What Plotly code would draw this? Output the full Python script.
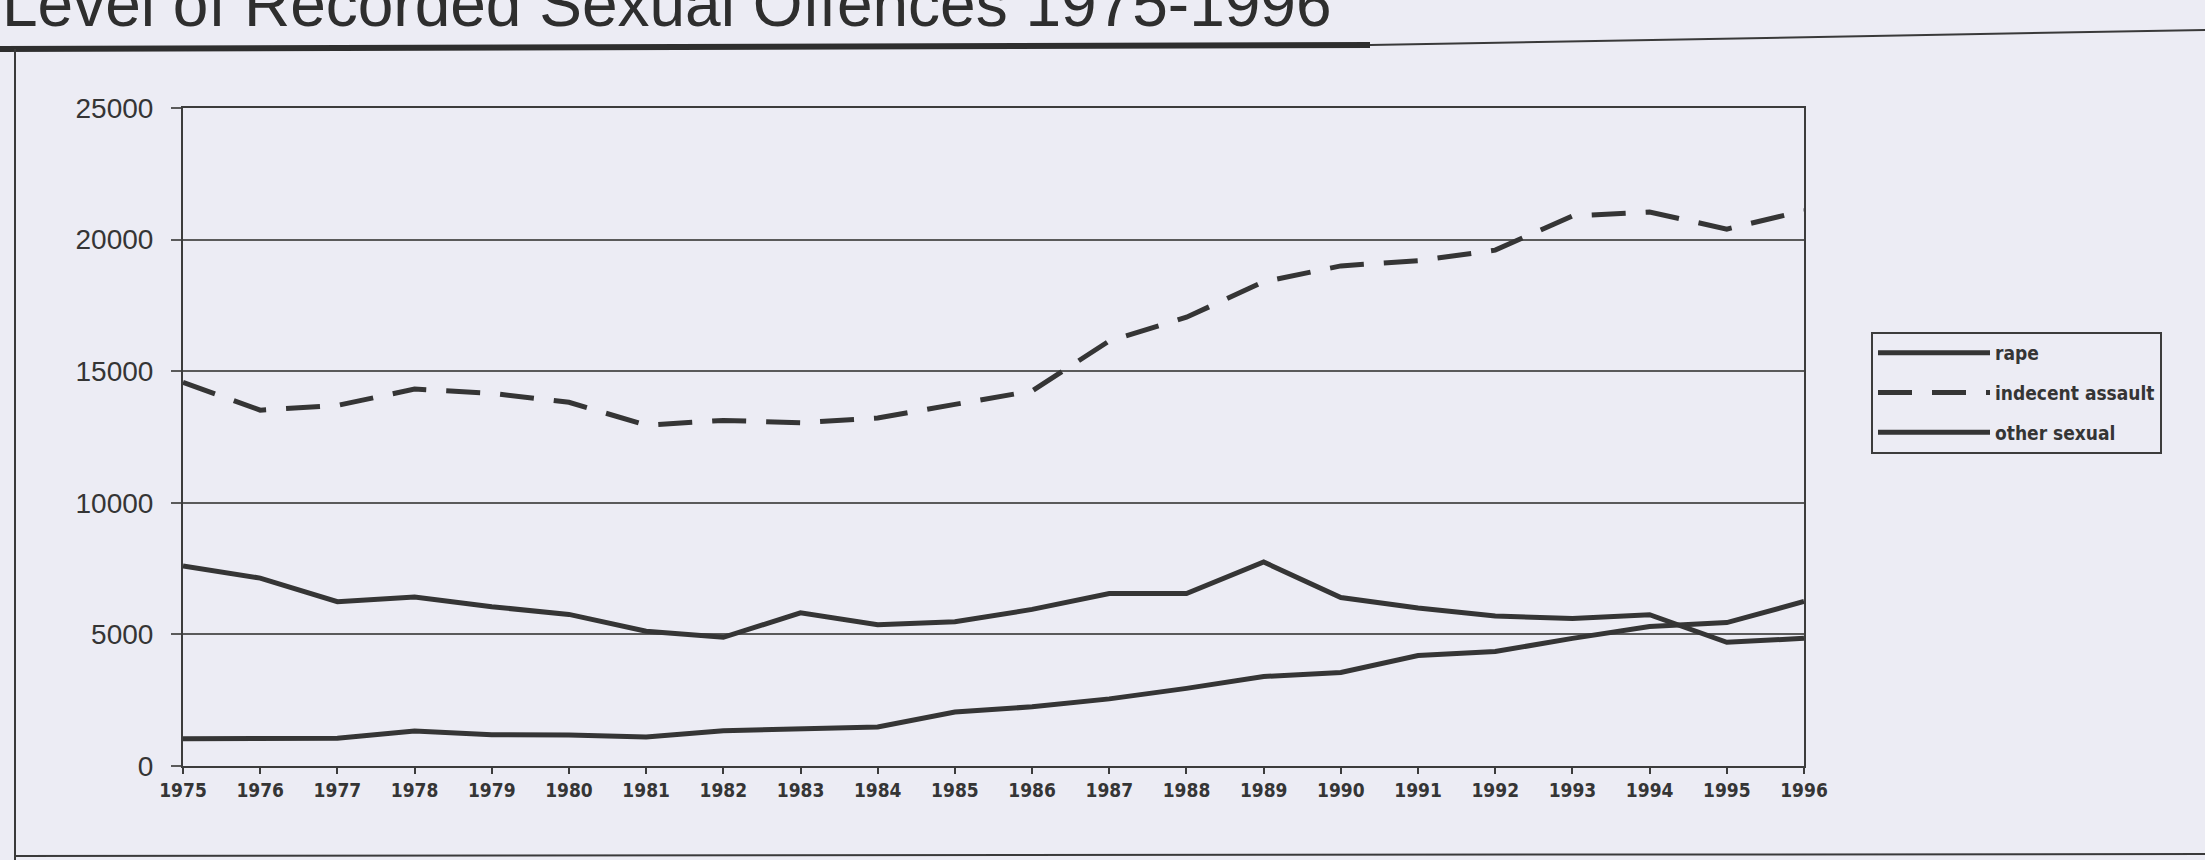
import plotly.graph_objects as go

years = list(range(1975, 1997))
year_labels = [str(y) for y in years]

rape = [1040, 1030, 1050, 1330, 1190, 1180, 1100, 1340, 1390, 1480, 2050,
        2250, 2550, 2950, 3400, 3550, 4200, 4350, 4850, 5300, 5450, 6250]
indecent_assault = [14580, 13520, 13700, 14320, 14160, 13820, 12950, 13130, 13040, 13220, 13740,
                    14250, 16150, 17050, 18400, 19000, 19200, 19600, 20900, 21050, 20400, 21100]
other_sexual = [7600, 7140, 6240, 6420, 6050, 5760, 5120, 4890, 5820, 5370, 5480,
                5950, 6550, 6550, 7750, 6400, 6000, 5700, 5600, 5750, 4700, 4850]

series_names = ["rape", "indecent assault", "other sexual"]
y_ticks = [0, 5000, 10000, 15000, 20000, 25000]

BG = "#ECECF4"
INK = "#353535"
W, H = 2205, 860
L, R, T, B = 183, 401, 108, 94
PH = H - T - B
PW = W - L - R


def px_x(px):
    return (px - L) / PW


def px_y(py):
    return (H - B - py) / PH


narrow = "Liberation Sans Narrow, DejaVu Sans Condensed, Arial Narrow, sans-serif"

fig = go.Figure()
fig.add_trace(go.Scatter(x=years, y=rape, name=series_names[0], mode="lines",
                         legendgroup="a",
                         line=dict(color=INK, width=5)))
fig.add_trace(go.Scatter(x=years, y=indecent_assault, name=series_names[1], mode="lines",
                         legendgroup="b",
                         line=dict(color=INK, width=5, dash="34px,20px")))
fig.add_trace(go.Scatter(x=years, y=other_sexual, name=series_names[2], mode="lines",
                         legendgroup="c",
                         line=dict(color=INK, width=5)))

fig.update_layout(
    width=W, height=H,
    margin=dict(l=L, r=R, t=T, b=B, pad=0),
    paper_bgcolor=BG, plot_bgcolor=BG,
    font=dict(family="Liberation Sans, Arial, sans-serif", color=INK),
    showlegend=True,
    legend=dict(
        x=px_x(1871), y=px_y(332), xanchor="left", yanchor="top",
        bgcolor=BG, bordercolor="#3c3c3c", borderwidth=2,
        font=dict(family=narrow, size=19, color=INK, weight="bold"),
        tracegroupgap=12, itemwidth=112,
    ),
    xaxis=dict(
        range=[1975, 1996], tickvals=years, ticktext=year_labels,
        showgrid=False, zeroline=False,
        showline=True, linecolor="#3c3c3c", linewidth=2, mirror=True,
        ticks="outside", ticklen=6, tickwidth=1.5, tickcolor="#3c3c3c",
        tickfont=dict(family=narrow, size=19, color=INK, weight="bold"),
        tickangle=0,
    ),
    yaxis=dict(
        range=[0, 25000], tickvals=y_ticks, ticktext=[str(v) for v in y_ticks],
        showgrid=True, gridcolor="#5a5a5a", gridwidth=1.5, zeroline=False,
        showline=True, linecolor="#3c3c3c", linewidth=2, mirror=True,
        ticks="outside", ticklen=10, tickwidth=1.5, tickcolor="#5a5a5a",
        tickfont=dict(family="Liberation Sans, Arial, sans-serif", size=28, color=INK),
        ticklabelstandoff=12,
    ),
)

# title, partially cut off at the top of the page as in the scanned original
fig.add_annotation(
    text="Level of Recorded Sexual Offences 1975-1996",
    xref="paper", yref="paper", x=px_x(0), y=px_y(4),
    xanchor="left", yanchor="middle", showarrow=False,
    font=dict(family="Liberation Sans, Arial, sans-serif", size=64, color="#2e2e2e"),
)

# decorative frame of the scanned page
fig.add_shape(type="line", xref="paper", yref="paper",
              x0=px_x(0), x1=px_x(1370), y0=px_y(49), y1=px_y(45),
              line=dict(color="#2e2e2e", width=6))
fig.add_shape(type="line", xref="paper", yref="paper",
              x0=px_x(1370), x1=px_x(W), y0=px_y(45), y1=px_y(30),
              line=dict(color="#3a3a3a", width=2))
fig.add_shape(type="line", xref="paper", yref="paper",
              x0=px_x(15), x1=px_x(15), y0=px_y(49), y1=px_y(H),
              line=dict(color="#3a3a3a", width=2))
fig.add_shape(type="line", xref="paper", yref="paper",
              x0=px_x(15), x1=px_x(W), y0=px_y(856), y1=px_y(854),
              line=dict(color="#3a3a3a", width=2))

fig.write_html("out.html")
